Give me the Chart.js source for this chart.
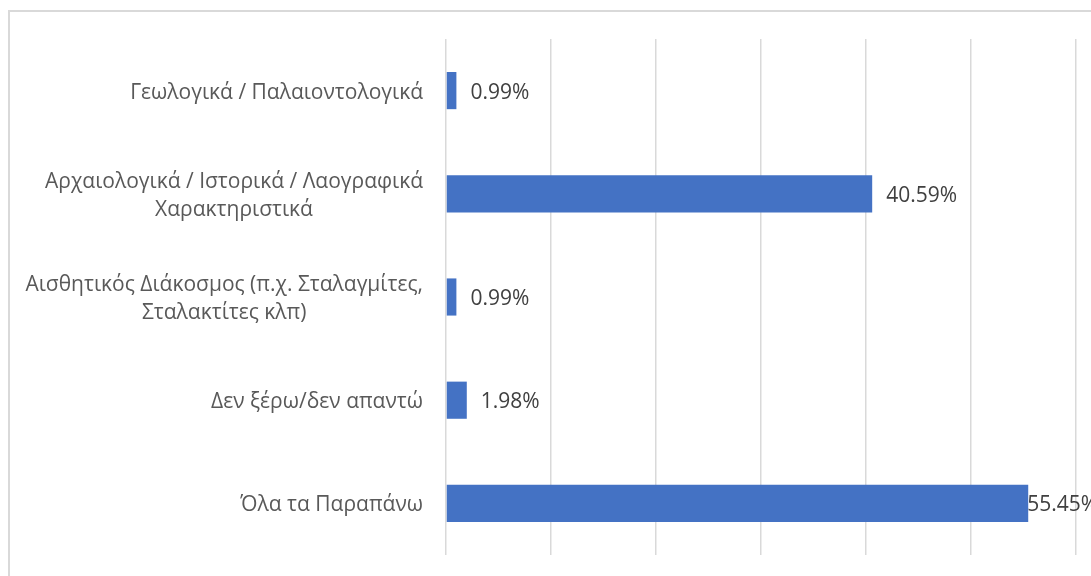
<!DOCTYPE html>
<html>
<head>
<meta charset="utf-8">
<script src="https://cdn.jsdelivr.net/npm/chart.js@4/dist/chart.umd.min.js"></script>
<style>
  body { margin: 0; background: #fff; overflow: hidden; }
  #frame { position: absolute; left: 8px; top: 10px; width: 1200px; height: 700px; border: 2px solid #d9d9d9; }
  #wrap { position: absolute; left: 0; top: 0; width: 1091px; height: 576px; }
</style>
</head>
<body>
<div id="frame"></div>
<div id="wrap"><canvas id="chrt"></canvas></div>
<script>
// categories and values (percent)
var categories = [
    ['Γεωλογικά / Παλαιοντολογικά'],
    ['Αρχαιολογικά / Ιστορικά / Λαογραφικά', 'Χαρακτηριστικά'],
    ['Αισθητικός Διάκοσμος (π.χ. Σταλαγμίτες,', 'Σταλακτίτες κλπ)'],
    ['Δεν ξέρω/δεν απαντώ'],
    ['Όλα τα Παραπάνω']
];
var percentValues = [0.99, 40.59, 0.99, 1.98, 55.45];
var xTicks = [0, 10, 20, 30, 40, 50, 60];

var labelFont = '21px "Open Sans", "Noto Sans", sans-serif';

//================================================================ category labels, block right aligned, lines centred
var catLabels = {
    id: 'catLabels',
    afterDraw: function(chart) {
        var ctx = chart.ctx;
        var yScale = chart.scales.y;
        var right = chart.chartArea.left - 23;
        ctx.save();
        ctx.font = labelFont;
        ctx.fillStyle = '#595959';
        ctx.textAlign = 'center';
        ctx.textBaseline = 'middle';
        var lineH = 28;
        categories.forEach(function(lines, i) {
            var w = 0;
            lines.forEach(function(l) { w = Math.max(w, ctx.measureText(l).width); });
            var cx = right - w / 2;
            var cy = yScale.getPixelForTick(i) + 2;
            var y0 = cy - (lines.length - 1) * lineH / 2;
            lines.forEach(function(l, j) {
                ctx.fillText(l, cx, y0 + j * lineH);
            });
        });
        ctx.restore();
    }
};

//================================================================ value labels
var valueLabels = {
    id: 'valueLabels',
    afterDatasetsDraw: function(chart) {
        var ctx = chart.ctx;
        var meta = chart.getDatasetMeta(0);
        ctx.save();
        ctx.font = labelFont;
        ctx.fillStyle = '#404040';
        ctx.textAlign = 'left';
        ctx.textBaseline = 'middle';
        meta.data.forEach(function(bar, i) {
            var txt = percentValues[i].toFixed(2) + '%';
            var w = ctx.measureText(txt).width;
            var x = bar.x + 14;
            if (x + w > chart.width) x = bar.x - 1;
            ctx.fillText(txt, x, bar.y + 2);
        });
        ctx.restore();
    }
};

var chrt = document.getElementById('chrt').getContext('2d');
var barChart = new Chart(chrt, {
    type: 'bar',
    data: {
        labels: categories.map(function(c) { return c.join(' '); }),
        datasets: [{
            data: percentValues,
            backgroundColor: '#4472C4',
            barPercentage: 0.36,
            categoryPercentage: 1
        }]
    },
    options: {
        indexAxis: 'y',
        responsive: true,
        maintainAspectRatio: false,
        animation: false,
        layout: { padding: { top: 39, bottom: 21, right: 15, left: 0 } },
        plugins: { legend: { display: false }, tooltip: { enabled: false } },
        scales: {
            x: {
                min: xTicks[0],
                max: xTicks[xTicks.length - 1],
                afterBuildTicks: function(scale) {
                    scale.ticks = xTicks.map(function(v) { return { value: v }; });
                },
                ticks: { display: false },
                grid: { color: '#d9d9d9', lineWidth: 1.5, drawTicks: false },
                border: { display: false }
            },
            y: {
                ticks: { display: false },
                grid: { display: false },
                border: { display: false },
                afterFit: function(scale) { scale.width = 446; }
            }
        }
    },
    plugins: [catLabels, valueLabels]
});
</script>
</body>
</html>
